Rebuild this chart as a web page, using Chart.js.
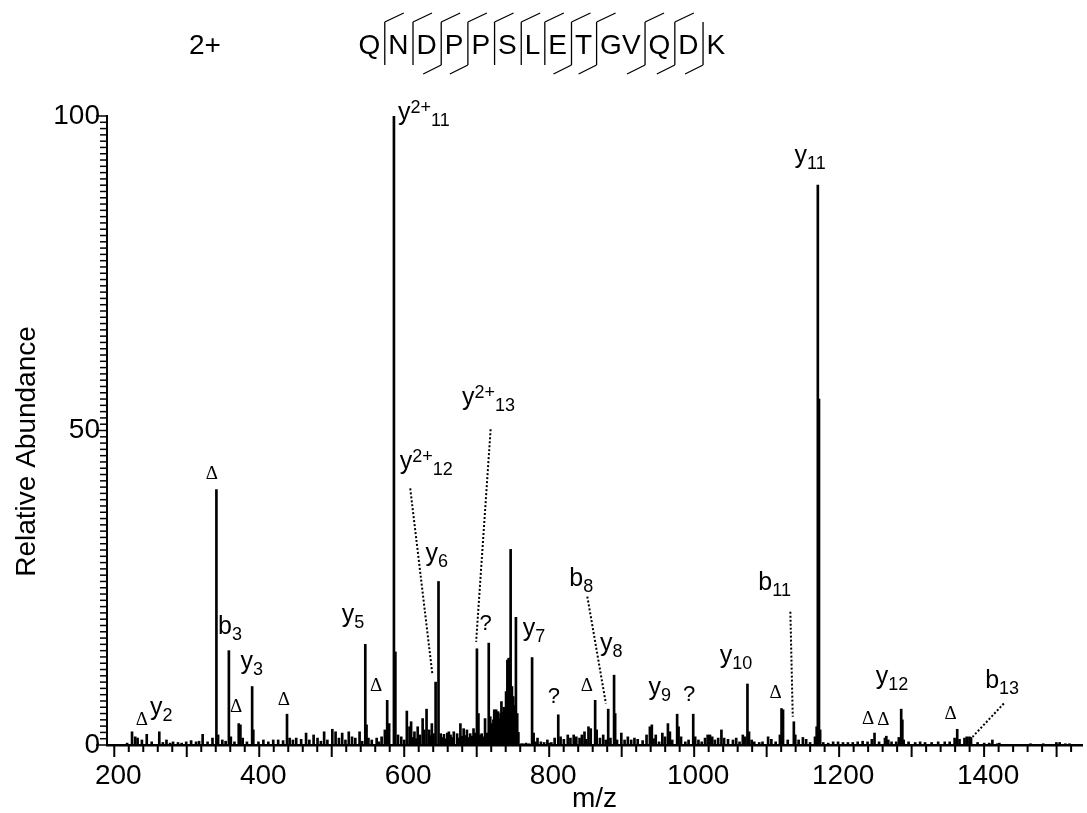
<!DOCTYPE html>
<html>
<head>
<meta charset="utf-8">
<title>QNDPPSLETGVQDK 2+ MS/MS</title>
<script src="https://cdn.jsdelivr.net/npm/chart.js@4.4.0/dist/chart.umd.min.js"></script>
<style>
    html, body { margin: 0; padding: 0; background: #fff; }
    canvas { display: block; }
</style>
</head>
<body>
<canvas id="spectrumChart" width="1087" height="813"></canvas>
<script>

// ==========================================
// Spectrum data
// ==========================================

const peakMz = [
    217.7, 224.5, 228.9, 232.2, 238.1, 244.8, 251.6, 262.1, 267, 272,
    277, 281.1, 287.9, 293, 299.2, 306, 312.8, 317, 321.9, 328.7,
    335.5, 340.9, 343.2, 349, 353.6, 358.1, 360.8, 365.8, 371.7, 374,
    377.1, 383, 390.2, 391.8, 398.9, 405.7, 412.5, 419.3, 426.1, 432.9,
    438.3, 441.9, 446.4, 451, 457.8, 464.6, 469.1, 475, 480.4, 485,
    489.5, 494, 500.8, 505.3, 509.9, 514.4, 518.9, 523.5, 528, 532.5,
    538.4, 542, 546.3, 548, 550.6, 555.2, 562, 565, 568.8, 573.3,
    576.5, 579.2, 585.8, 587.8, 591.4, 595.9, 600, 603.6, 607.3, 609.5,
    612, 614.1, 616.5, 618.6, 621.7, 625.4, 627.7, 630.8, 634.4, 636.5,
    638.1, 640.5, 643.3, 647.3, 650.3, 652.6, 654.8, 657, 659.4, 661.6,
    663.9, 666, 668.4, 673, 675, 677.5, 680, 682, 684, 686.5,
    689, 691, 693.5, 695.6, 698, 700.3, 702.4, 704.5, 706.9, 709,
    711.5, 713.8, 716.6, 718.7, 721.4, 723, 724.2, 725.6, 726.9, 728.3,
    729.6, 730.7, 731.8, 733, 734.1, 735.3, 736.4, 737.5, 738.6, 740.5,
    742.3, 744.1, 745.5, 746.8, 748.6, 750.4, 752.2, 754.1, 755.9, 757.5,
    761.3, 764, 768.1, 772, 776.4, 778.5, 781, 783.9, 788.5, 793,
    797.5, 800, 803, 807.5, 812.5, 815.7, 820.2, 825.6, 829.3, 833.8,
    837.4, 841.9, 845.1, 848.7, 851, 854.2, 857.3, 863.4, 865.5, 870,
    874.5, 878, 881.4, 884.5, 889.5, 891, 893.6, 899.5, 904, 908.5,
    913.1, 917.6, 922.1, 928.9, 934.3, 938.9, 941.6, 944, 947, 951.6,
    956.1, 959.7, 963.8, 966.5, 969.7, 976.5, 978.5, 981.9, 987.8, 992.3,
    998.7, 1001.4, 1005.9, 1010.4, 1015, 1018.6, 1021.8, 1024.9, 1028.6, 1033.1,
    1037.6, 1041.3, 1046.7, 1053.5, 1058, 1062.6, 1067.1, 1070.2, 1073.5, 1075.7,
    1079.3, 1082.9, 1089.7, 1094.3, 1102, 1106.5, 1112.4, 1118.3, 1120.5, 1122.6,
    1129.1, 1137.5, 1139.5, 1144.1, 1150, 1154.5, 1159.9, 1166.7, 1169, 1170.6,
    1172.2, 1173.8, 1178.1, 1184.9, 1191.7, 1198.5, 1205.3, 1212.1, 1218.8, 1225.6,
    1232.4, 1239.2, 1245.1, 1248.8, 1255.1, 1263.2, 1265.1, 1267.8, 1272.3, 1278.7,
    1282.3, 1285.6, 1287.2, 1289, 1295.8, 1304.9, 1311.7, 1318.5, 1327.6, 1336.6,
    1345.7, 1352.5, 1359.3, 1362.9, 1366.1, 1372.9, 1376, 1379.7, 1382, 1391,
    1400.1, 1407, 1411.4, 1418.2, 1421, 1440.8, 1464, 1481.6, 1499.7, 1504.2,
    1512, 1517.8
];

const peakIntensity = [
    0.3, 2.1, 1.3, 1.1, 0.8, 1.7, 0.5, 2.1, 0.4, 0.8,
    0.3, 0.5, 0.4, 0.3, 0.5, 0.7, 0.5, 0.6, 1.7, 0.5,
    1.1, 40.6, 1.6, 0.8, 0.6, 15.0, 1.3, 0.5, 3.4, 3.2,
    1.1, 0.5, 9.3, 2.4, 0.5, 0.8, 0.5, 0.8, 0.8, 0.7,
    4.9, 1.1, 0.8, 1.1, 0.9, 1.9, 0.8, 1.6, 1.1, 0.6,
    2.1, 0.8, 2.5, 2.1, 1.1, 1.9, 0.8, 2.1, 1.3, 1.1,
    2.1, 0.6, 16.0, 3.2, 1.1, 0.8, 1.1, 0.5, 1.3, 2.4,
    7.1, 3.4, 100, 14.8, 1.6, 1.3, 0.8, 5.4, 2.9, 3.7,
    1.2, 2.1, 1.0, 2.9, 1.6, 4.2, 2.4, 5.7, 2.4, 1.5,
    3.4, 1.8, 10.0, 26.0, 1.8, 1.2, 1.7, 1.0, 1.9, 2.1,
    1.6, 1.2, 2.1, 1.8, 1.1, 3.4, 1.4, 2.6, 1.5, 2.4,
    1.2, 1.8, 1.4, 2.6, 1.9, 15.3, 5.0, 1.6, 1.8, 1.3,
    4.2, 1.9, 16.2, 4.5, 3.4, 4.0, 5.6, 4.3, 5.6, 4.4,
    5.3, 4.0, 4.2, 5.0, 6.9, 5.2, 4.5, 6.0, 5.6, 8.5,
    13.5, 13.8, 10.5, 31.1, 9.3, 7.7, 6.3, 20.3, 5.0, 2.0,
    0.2, 0.2, 0.3, 0.2, 13.9, 1.9, 0.5, 1.1, 0.5, 0.4,
    0.8, 0.3, 0.4, 1.1, 4.8, 1.3, 0.9, 1.6, 1.1, 1.6,
    1.3, 1.1, 1.6, 2.1, 0.9, 2.9, 2.6, 7.1, 2.4, 1.1,
    1.6, 0.8, 5.7, 1.1, 11.1, 5.0, 0.8, 1.9, 0.8, 1.3,
    0.8, 1.1, 0.9, 0.7, 1.6, 2.9, 3.2, 1.0, 1.6, 0.5,
    1.9, 1.3, 3.4, 2.1, 0.8, 4.9, 2.9, 1.3, 0.5, 0.8,
    4.9, 1.3, 0.8, 0.5, 1.1, 1.6, 1.6, 1.3, 0.8, 1.1,
    2.4, 1.1, 0.9, 0.8, 1.1, 0.5, 1.6, 1.3, 9.7, 2.1,
    0.8, 0.5, 0.4, 0.5, 1.3, 0.9, 0.5, 1.6, 5.8, 5.6,
    0.8, 3.7, 1.6, 0.8, 1.2, 0.9, 0.4, 1.3, 2.9, 89.0,
    55.0, 2.4, 0.4, 0.3, 0.5, 0.5, 0.4, 0.4, 0.4, 0.5,
    0.6, 0.5, 0.9, 1.9, 0.5, 1.1, 1.4, 0.8, 0.5, 0.5,
    1.2, 5.7, 4.0, 0.8, 0.5, 0.4, 0.5, 0.4, 0.4, 0.5,
    0.5, 0.5, 1.1, 2.5, 0.9, 1.1, 1.3, 1.3, 1.2, 0.4,
    0.3, 0.3, 0.8, 0.2, 0.3, 0.1, 0.2, 0.2, 0.4, 0.4,
    0.2, 0.2
];

// axis ranges and ticks
const mzMin = 200;
const mzMax = 1525;
const mzTickStep = 20;
const mzLabelStep = 200;
const abundanceTickStep = 1;
const abundanceLabels = [0, 50, 100];

// peptide header
const precursorCharge = "2+";
const sequence = "QNDPPSLETGVQDK";
const yCleavages = [1, 2, 3, 4, 5, 6, 7, 8, 9, 11, 12];   // site after residue n
const bCleavages = [3, 4, 8, 9, 11, 12, 13];

// ion labels: [ion, subscript, superscript, m/z, abundance] (text anchor)
const ionLabels = [
    ["y", "11", "2+", 591.4, 99.3],
    ["y", "11", "", 1138.5, 92.6],
    ["y", "13", "2+", 679.8, 54.0],
    ["y", "12", "2+", 593.7, 43.9],
    ["y", "6", "", 629.5, 29.3],
    ["y", "5", "", 513.9, 19.5],
    ["b", "3", "", 343.2, 17.6],
    ["y", "3", "", 374.0, 12.1],
    ["y", "2", "", 249.3, 4.7],
    ["y", "7", "", 763.5, 17.4],
    ["b", "8", "", 827.8, 25.2],
    ["y", "8", "", 870.0, 15.0],
    ["y", "9", "", 937.0, 7.9],
    ["y", "10", "", 1035.3, 13.1],
    ["b", "11", "", 1088.5, 24.6],
    ["y", "12", "", 1250.6, 9.7],
    ["b", "13", "", 1401.5, 9.1]
];

// water loss marks [m/z, abundance]
const waterLossMarks = [
    [238.1, 4.0], [334.5, 43.1], [368.1, 6.1], [433.8, 7.2], [561.1, 9.3],
    [851.8, 9.4], [1112.3, 8.2], [1240.0, 4.1], [1261.0, 3.9], [1353.8, 5.0]
];

// unassigned peaks [m/z, abundance]
const unknownMarks = [
    [712.4, 19.3], [806.6, 7.7], [993.2, 8.0]
];

// dotted leaders [m/z from, abundance from, m/z to, abundance to]
const leaders = [
    [608.3, 40.8, 639.0, 11.1],
    [719.2, 50.2, 699.2, 16.4],
    [852.6, 23.6, 878.2, 6.6],
    [1132.7, 21.2, 1136.0, 4.5],
    [1427.2, 6.6, 1384.1, 1.3]
];


// ==========================================
// Helpers
// ==========================================

const SANS = "\"Liberation Sans\", Arial, Helvetica, sans-serif";
const SERIF = "\"Liberation Serif\", \"Times New Roman\", serif";

function range(from, to, step) {
    const out = [];
    for (let v = from; v <= to + 1e-9; v += step) {
        out.push(Math.round(v * 1000) / 1000);
    }
    return out;
}

function drawIonLabel(ctx, px, py, ion, sub, sup) {
    ctx.textAlign = "left";
    ctx.textBaseline = "alphabetic";
    ctx.font = "25px " + SANS;
    ctx.fillText(ion, px, py);
    let cx = px + ctx.measureText(ion).width;
    ctx.font = "18px " + SANS;
    if (sup) {
        ctx.fillText(sup, cx, py - 7);
        cx += ctx.measureText(sup).width;
    }
    ctx.fillText(sub, cx, py + 6);
}

function drawSequence(ctx) {
    const baseline = 54;
    const top = 22;
    const bottom = 65;

    ctx.font = "28px " + SANS;
    ctx.textAlign = "left";
    ctx.textBaseline = "alphabetic";
    ctx.fillText(precursorCharge, 189, baseline);

    ctx.lineWidth = 1.3;
    let x = 358.5;
    for (let i = 0; i < sequence.length; i++) {
        ctx.fillText(sequence[i], x, baseline);
        x += ctx.measureText(sequence[i]).width;

        const site = i + 1;
        const hasY = yCleavages.includes(site);
        const hasB = bCleavages.includes(site);
        if (!hasY && !hasB) continue;

        const sx = x + 4.5;
        ctx.beginPath();
        ctx.moveTo(sx, top);
        ctx.lineTo(sx, bottom);
        if (hasY) {
            ctx.moveTo(sx, top);
            ctx.lineTo(sx + 19, top - 9);
        }
        if (hasB) {
            ctx.moveTo(sx, bottom);
            ctx.lineTo(sx - 18, bottom + 9);
        }
        ctx.stroke();
        x += 8;
    }
}


// ==========================================
// Plugins
// ==========================================

// minor / major tick marks on both axes
const tickMarks = {
    id: "tickMarks",
    afterDraw(chart) {
        const {ctx, chartArea, scales: {x, y}} = chart;
        ctx.save();
        ctx.strokeStyle = "#000";

        ctx.lineWidth = 2;
        x.ticks.forEach(t => {
            const px = x.getPixelForValue(t.value);
            const len = t.value % 100 === 0 ? 12 : 7;
            ctx.beginPath();
            ctx.moveTo(px, chartArea.bottom);
            ctx.lineTo(px, chartArea.bottom + len);
            ctx.stroke();
        });

        ctx.lineWidth = 1.5;
        y.ticks.forEach(t => {
            const py = y.getPixelForValue(t.value);
            const len = t.value % 50 === 0 ? 11 : 7;
            ctx.beginPath();
            ctx.moveTo(chartArea.left - len, py);
            ctx.lineTo(chartArea.left, py);
            ctx.stroke();
        });
        ctx.restore();
    }
};

// ion labels, marks, leaders, header and y title
const annotations = {
    id: "annotations",
    afterDraw(chart) {
        const {ctx, chartArea, scales: {x, y}} = chart;
        ctx.save();
        ctx.fillStyle = "#000";
        ctx.strokeStyle = "#000";

        ionLabels.forEach(([ion, sub, sup, mz, lvl]) => {
            drawIonLabel(ctx, x.getPixelForValue(mz), y.getPixelForValue(lvl), ion, sub, sup);
        });

        ctx.textAlign = "center";
        ctx.textBaseline = "middle";
        ctx.font = "19px " + SERIF;
        waterLossMarks.forEach(([mz, lvl]) => {
            ctx.fillText("\u0394", x.getPixelForValue(mz), y.getPixelForValue(lvl));
        });

        ctx.font = "22px " + SANS;
        unknownMarks.forEach(([mz, lvl]) => {
            ctx.fillText("?", x.getPixelForValue(mz), y.getPixelForValue(lvl));
        });

        ctx.lineWidth = 2;
        ctx.setLineDash([2, 2]);
        leaders.forEach(([m1, l1, m2, l2]) => {
            ctx.beginPath();
            ctx.moveTo(x.getPixelForValue(m1), y.getPixelForValue(l1));
            ctx.lineTo(x.getPixelForValue(m2), y.getPixelForValue(l2));
            ctx.stroke();
        });
        ctx.setLineDash([]);

        drawSequence(ctx);

        // y axis title
        ctx.save();
        ctx.translate(27, (chartArea.top + chartArea.bottom) / 2 + 21);
        ctx.rotate(-Math.PI / 2);
        ctx.font = "28px " + SANS;
        ctx.textAlign = "center";
        ctx.textBaseline = "middle";
        ctx.fillText("Relative Abundance", 0, 0);
        ctx.restore();

        ctx.restore();
    }
};


// ==========================================
// Chart
// ==========================================

function loadSpectrum() {

    const ctx = document.getElementById("spectrumChart");

    const points = peakMz.map((mz, i) => ({x: mz, y: peakIntensity[i]}));

    new Chart(ctx, {

        type: "bar",

        data: {
            datasets: [{
                data: points,
                backgroundColor: "#000",
                borderWidth: 0,
                barThickness: 2
            }]
        },

        options: {
            responsive: false,
            animation: false,
            devicePixelRatio: 1,
            layout: {
                padding: {top: 116, right: 5, left: 0, bottom: 0}
            },
            plugins: {
                legend: {display: false},
                tooltip: {enabled: false}
            },
            scales: {
                x: {
                    type: "linear",
                    min: mzMin,
                    max: mzMax,
                    afterBuildTicks: s => {
                        s.ticks = range(mzMin, mzMax, mzTickStep).map(v => ({value: v}));
                    },
                    afterFit: s => { s.height = 68; },
                    ticks: {
                        autoSkip: false,
                        maxRotation: 0,
                        padding: 14,
                        labelOffset: 4,
                        color: "#000",
                        font: {family: SANS, size: 28},
                        callback: v => (v % mzLabelStep === 0 ? String(v) : "")
                    },
                    grid: {display: false, drawTicks: false, tickLength: 0},
                    border: {display: true, color: "#000", width: 2.5},
                    title: {
                        display: true,
                        text: "m/z",
                        color: "#000",
                        font: {family: SANS, size: 28, lineHeight: 1},
                        padding: {top: 0, bottom: 0}
                    }
                },
                y: {
                    min: 0,
                    max: 100,
                    afterBuildTicks: s => {
                        s.ticks = range(0, 100, abundanceTickStep).map(v => ({value: v}));
                    },
                    afterFit: s => { s.width = 107; },
                    ticks: {
                        autoSkip: false,
                        padding: 7,
                        color: "#000",
                        font: {family: SANS, size: 28},
                        callback: v => (abundanceLabels.includes(v) ? String(v) : "")
                    },
                    grid: {display: false, drawTicks: false, tickLength: 0},
                    border: {display: true, color: "#000", width: 2}
                }
            }
        },

        plugins: [tickMarks, annotations]

    });

}

loadSpectrum();

</script>
</body>
</html>
